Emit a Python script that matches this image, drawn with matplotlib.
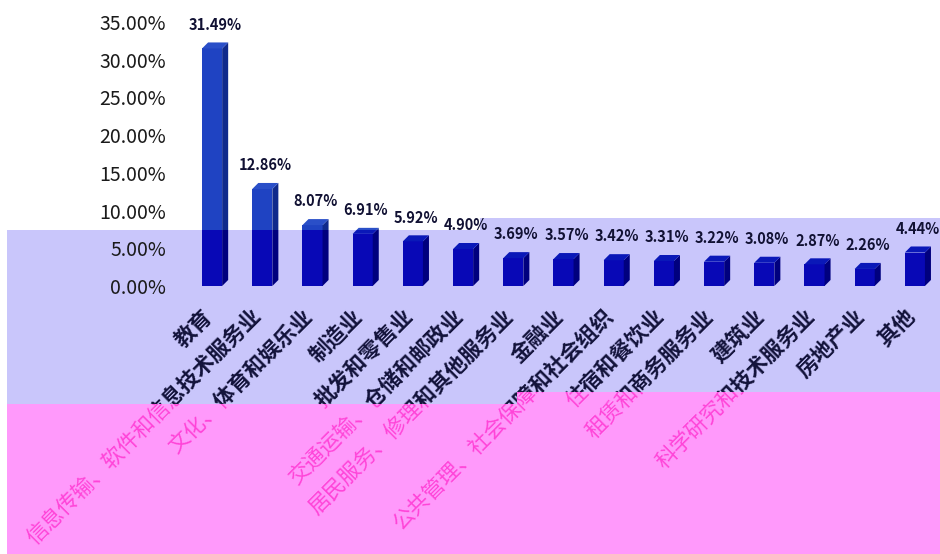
import matplotlib
matplotlib.use("Agg")
import matplotlib.pyplot as plt
from matplotlib.patches import Polygon
from matplotlib.transforms import Bbox, TransformedBbox
import numpy as np

plt.rcParams['font.family'] = ['Noto Sans CJK SC', 'DejaVu Sans']

# data
categories = ["教育", "信息传输、软件和信息技术服务业", "文化、体育和娱乐业", "制造业",
              "批发和零售业", "交通运输、仓储和邮政业", "居民服务、修理和其他服务业",
              "金融业", "公共管理、社会保障和社会组织", "住宿和餐饮业", "租赁和商务服务业",
              "建筑业", "科学研究和技术服务业", "房地产业", "其他"]
shares = [31.49, 12.86, 8.07, 6.91, 5.92, 4.90, 3.69, 3.57, 3.42, 3.31, 3.22, 3.08, 2.87, 2.26, 4.44]
yticks = [0, 5, 10, 15, 20, 25, 30, 35]

W, H = 940, 554
fig = plt.figure(figsize=(W / 100, H / 100), dpi=100)
fig.patch.set_facecolor("white")


def fpoly(pts):
    # pixel coords (from top-left) -> figure fraction
    return [(x / W, 1 - y / H) for x, y in pts]


def fbox(x0, y0, x1, y1):
    # pixel box (from top-left) -> bbox in display coords
    return TransformedBbox(Bbox([[x0 / W, 1 - y1 / H], [x1 / W, 1 - y0 / H]]), fig.transFigure)


# background bands of the picture
white_reg = fpoly([(0, 0), (W, 0), (W, 218), (480, 218), (480, 230), (0, 230)])
lav_reg = fpoly([(7, 230), (480, 230), (480, 218), (W, 218), (W, 392), (517, 392), (517, 404), (7, 404)])
pink_reg = fpoly([(7, 404), (517, 404), (517, 392), (W, 392), (W, H), (7, H)])
lower_reg = fpoly([(0, 230), (480, 230), (480, 218), (W, 218), (W, 392), (517, 392), (517, 404), (0, 404)])
fig.patches.append(Polygon(lav_reg, closed=True, transform=fig.transFigure,
                           facecolor="#c9c6fb", edgecolor="none", zorder=-5))
fig.patches.append(Polygon(pink_reg, closed=True, transform=fig.transFigure,
                           facecolor="#ff99fb", edgecolor="none", zorder=-5))


def clipper(reg):
    return Polygon(reg, closed=True, transform=fig.transFigure, facecolor="none", edgecolor="none")


ax = fig.add_axes([187 / W, 1 - 286 / H, 753 / W, (286 - 22) / H])
ax.set_facecolor("none")
ax.set_xlim(-0.5, len(categories) - 0.5)
ax.set_ylim(0, 35)
for s in ax.spines.values():
    s.set_visible(False)

x = np.arange(len(categories))
bw = 0.4
dx = 0.12
dy = 0.8

# 3D-ish bars, drawn twice: one look above the band, one inside it
looks = [(white_reg, "#1f43c2", "#102a8c", "#2a4fc8"),
         (lower_reg, "#0808b6", "#00007e", "#0a18b8")]
for reg, front, side, top in looks:
    bars = ax.bar(x, shares, width=bw, color=front, zorder=3)
    for b in bars:
        b.set_clip_box(None)
        b.set_clip_path(clipper(reg))
    for xi, v in zip(x, shares):
        r = xi + bw / 2
        l = xi - bw / 2
        sp = Polygon([(r, 0), (r + dx, dy), (r + dx, v + dy), (r, v)], closed=True,
                     facecolor=side, edgecolor="none", zorder=3)
        tp = Polygon([(l, v), (l + dx, v + dy), (r + dx, v + dy), (r, v)], closed=True,
                     facecolor=top, edgecolor="none", zorder=3)
        for p in (sp, tp):
            ax.add_patch(p)
            p.set_clip_box(None)
            p.set_clip_path(clipper(reg))

# value labels
for xi, v in zip(x, shares):
    ax.annotate(f"{v:.2f}%", (xi + dx / 2, v + dy), xytext=(0, 7), textcoords="offset points",
                ha="center", va="bottom", fontsize=10.5, fontweight="bold", color="#111133",
                zorder=5, annotation_clip=False)

# y tick labels
ax.set_yticks(yticks)
ax.set_yticklabels([f"{t:.2f}%" for t in yticks], fontsize=14, color="#1a1a1a")
ax.tick_params(axis="y", length=0, pad=15)
ax.set_xticks([])

# category labels: dark above the pink band, pink inside it (text clips to boxes only)
label_looks = [(fbox(0, 0, 517, 404), "#12123a", "bold"),
               (fbox(517, 0, W, 392), "#12123a", "bold"),
               (fbox(0, 404, 517, H), "#ff44d8", "normal"),
               (fbox(517, 392, W, H), "#ff44d8", "normal")]
for box, col, wt in label_looks:
    for xi, name in zip(x, categories):
        t = ax.text(xi - 0.22, -2.6, name, rotation=45, rotation_mode="anchor",
                    ha="right", va="top", fontsize=15.5, fontweight=wt, color=col,
                    zorder=5)
        t.set_clip_on(True)
        t.set_clip_path(None)
        t.set_clip_box(box)

fig.savefig("out.png", dpi=100)
